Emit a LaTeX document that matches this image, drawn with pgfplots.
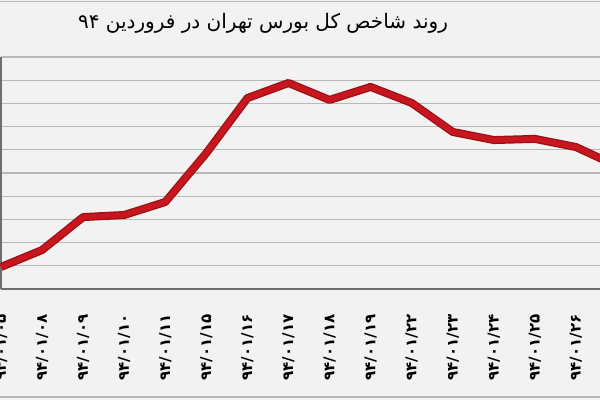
\documentclass[border=0pt]{standalone}
\usepackage{fontspec}
\usepackage{pgfplots}
\pgfplotsset{compat=1.18}
\TeXXeTstate=1
\newfontfamily\arabicfont[Script=Arabic]{DejaVu Sans}
\definecolor{bgc}{RGB}{242,242,242}
\definecolor{gridc}{RGB}{185,185,185}
\definecolor{axc}{RGB}{110,110,110}
\definecolor{redl}{RGB}{200,22,30}
\definecolor{redd}{RGB}{155,14,20}
\begin{document}
\begin{tikzpicture}[x=1pt,y=1pt]
\useasboundingbox (0,0) rectangle (600,400);
\fill[bgc] (0,0) rectangle (600,400);
\draw[gridc, line width=1.5pt] (0,398.5) -- (600,398.5);
\draw[gridc, line width=1.5pt] (0,3) -- (600,3);
\node[font=\arabicfont\fontsize{20}{20}\selectfont] at (263,377) {\beginR روند شاخص کل بورس تهران در فروردین \beginL ۹۴\endL{}\endR};
\clip (0,0) rectangle (600,400);
\begin{axis}[
  at={(1pt,111pt)}, anchor=south west,
  scale only axis, width=616pt, height=232pt,
  xmin=0, xmax=15, ymin=0, ymax=10,
  axis lines*=left,
  axis line style={draw=axc, line width=1.2pt},
  ytick={1,...,10}, yticklabels={},
  ymajorgrids, grid style={draw=gridc, line width=1.1pt},
  major tick length=0pt,
  xtick={0,...,14},
  xticklabels={۹۴/۰۱/۰۵,۹۴/۰۱/۰۸,۹۴/۰۱/۰۹,۹۴/۰۱/۱۰,۹۴/۰۱/۱۱,۹۴/۰۱/۱۵,۹۴/۰۱/۱۶,۹۴/۰۱/۱۷,۹۴/۰۱/۱۸,۹۴/۰۱/۱۹,۹۴/۰۱/۲۲,۹۴/۰۱/۲۳,۹۴/۰۱/۲۴,۹۴/۰۱/۲۵,۹۴/۰۱/۲۶},
  xticklabel style={rotate=90, anchor=east, font=\arabicfont\bfseries\fontsize{15}{15}\selectfont},
  xticklabel shift=22pt,
  clip=false,
]
\addplot[redd, line width=8pt, line join=round] coordinates {
(0,0.95) (1,1.68) (2,3.10) (3,3.19) (4,3.75) (5,5.86) (6,8.23) (7,8.88)
(8,8.15) (9,8.71) (10,8.02) (11,6.77) (12,6.42) (13,6.47) (14,6.12) (15,5.30)};
\addplot[redl, line width=5.5pt, line join=round] coordinates {
(0,0.95) (1,1.68) (2,3.10) (3,3.19) (4,3.75) (5,5.86) (6,8.23) (7,8.88)
(8,8.15) (9,8.71) (10,8.02) (11,6.77) (12,6.42) (13,6.47) (14,6.12) (15,5.30)};
\end{axis}
\end{tikzpicture}
\end{document}
